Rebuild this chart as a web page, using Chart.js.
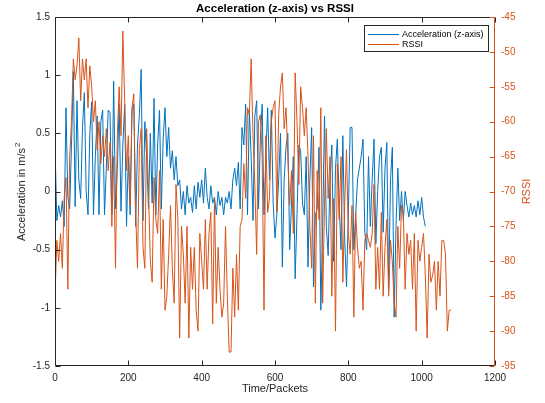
<!DOCTYPE html>
<html>
<head>
<meta charset="utf-8">
<script src="https://cdn.jsdelivr.net/npm/chart.js@4.4.0/dist/chart.umd.min.js"></script>
<style>
    html, body { margin: 0; padding: 0; background: #fff; }
    canvas { display: block; }
</style>
</head>
<body>
<canvas id="myChart" width="545" height="403"></canvas>
<script>
// one read sample every 5 packets
var packetStep = 5;

// acceleration (z-axis) in m/s^2, packets 0..1010
var accel = [
    0.40, -0.25, -0.12, -0.22, -0.08, -0.30, 0.72, -0.05, -0.15, 0.40,
    1.03, -0.13, 0.78, 0.10, -0.06, 0.55, 0.85, 0.00, -0.20, 0.50,
    0.77, -0.20, 0.30, 0.65, -0.20, 0.60, 0.70, -0.20, 0.20, 0.70,
    0.68, -0.20, 0.95, -0.15, 0.20, 0.75, -0.17, 0.40, 0.75, -0.30,
    0.30, -0.20, 0.70, 0.75, -0.30, 0.40, 0.65, 1.05, -0.25, 0.60,
    0.30, -0.15, 0.50, -0.10, 0.80, -0.20, 0.40, 0.70, -0.15, 0.45,
    0.72, 0.30, 0.55, 0.20, 0.35, 0.10, 0.30, 0.05, 0.10, -0.15,
    0.00, -0.20, 0.05, -0.10, -0.05, -0.18, 0.05, -0.15, 0.08, -0.05,
    0.10, -0.10, 0.20, -0.05, -0.15, 0.05, -0.10, -0.05, -0.20, 0.00,
    -0.12, -0.05, -0.20, -0.05, -0.10, 0.00, -0.15, 0.10, 0.20, 0.05,
    0.25, -0.15, 0.55, 0.40, 0.75, -0.20, 0.70, 0.30, -0.25, 0.65,
    0.78, -0.15, 0.45, 0.75, -0.20, 0.30, 0.72, 0.10, 0.70, -0.10,
    -0.40, -0.20, 0.10, 0.50, -0.65, 0.10, 0.38, 0.50, -0.50, -0.10,
    0.30, -0.75, -0.20, 0.40, 0.35, -0.10, -0.20, 0.30, -0.65, 0.10,
    0.55, -0.82, -0.20, -0.15, 0.38, -1.02, -0.30, 0.65, -0.30, -0.55,
    0.10, 0.40, -0.60, 0.20, 0.45, -0.10, -0.50, 0.48, -0.40, -0.82,
    -0.20, 0.55, 0.55, -0.50, -0.20, 0.10, 0.20, 0.30, 0.45, -0.35,
    -0.50, 0.30, -0.30, 0.10, 0.45, -0.45, 0.00, 0.30, 0.38, -0.35,
    0.20, 0.42, -0.85, 0.10, 0.38, -1.08, -0.30, 0.20, -0.25, 0.00,
    -0.25, 0.00, -0.12, -0.22, -0.10, -0.20, -0.12, -0.22, -0.08, -0.20,
    -0.05, -0.22, -0.30
];

// RSSI in dBm, packets 0..1080
var rssi = [
    -85, -77, -80, -76, -81, -71, -68, -84, -65, -60,
    -51, -54, -52, -48, -57, -51, -54, -51, -58, -52,
    -55, -60, -57, -64, -60, -66, -62, -65, -61, -67,
    -63, -75, -65, -81, -62, -55, -62, -47, -57, -67,
    -62, -72, -58, -56, -73, -81, -64, -61, -78, -81,
    -61, -70, -80, -83, -68, -74, -76, -67, -84, -74,
    -87, -85, -79, -72, -81, -86, -69, -74, -91, -75,
    -79, -86, -75, -91, -78, -84, -78, -87, -90, -76,
    -80, -84, -74, -84, -76, -73, -89, -71, -86, -78,
    -84, -88, -86, -75, -85, -93, -93, -81, -88, -79,
    -87, -75, -74, -66, -71, -58, -59, -51, -62, -69,
    -79, -60, -59, -65, -87, -62, -73, -71, -60, -58,
    -57, -73, -59, -55, -53, -61, -58, -65, -72, -67,
    -76, -53, -60, -69, -55, -58, -62, -58, -65, -75,
    -81, -62, -86, -67, -74, -58, -86, -72, -61, -71,
    -65, -85, -71, -90, -66, -74, -65, -83, -72, -64,
    -76, -79, -72, -88, -73, -78, -81, -80, -87, -77,
    -76, -77, -78, -76, -69, -84, -78, -84, -73, -85,
    -78, -74, -85, -77, -80, -86, -88, -75, -81, -72,
    -73, -84, -76, -79, -77, -84, -76, -90, -77, -80,
    -78, -76, -82, -91, -79, -83, -82, -80, -87, -80,
    -85, -77, -77, -79, -90, -87, -87
];

var xTicks = [0, 200, 400, 600, 800, 1000, 1200];
var accTicks = [-1.5, -1, -0.5, 0, 0.5, 1, 1.5];
var rssiTicks = [-95, -90, -85, -80, -75, -70, -65, -60, -55, -50, -45];

var blue = '#0072BD';
var orange = '#D95319';
var axisGrey = '#262626';
var fontName = '"Liberation Sans", Arial, Helvetica, sans-serif';

function toPoints(values) {
    return values.map(function (v, i) {
        return { x: i * packetStep, y: v };
    });
}

// plain labels like matlab: 1 not 1.0, 1000 not 1,000
function plainLabel(value) {
    return String(Math.round(value * 10) / 10);
}

// frame, inward ticks, title, axis titles and legend
var matlabLook = {
    id: 'matlabLook',
    afterDraw: function (chart) {
        var ctx = chart.ctx;
        var a = chart.chartArea;
        var sx = chart.scales.x, sy = chart.scales.y, sr = chart.scales.y1;
        var L = a.left + 0.5, R = a.right - 0.5, T = a.top + 0.5, B = a.bottom - 0.5;
        var tick = 5;

        ctx.save();
        ctx.lineWidth = 1;
        ctx.strokeStyle = axisGrey;
        ctx.beginPath();
        ctx.moveTo(R, T); ctx.lineTo(L, T); ctx.lineTo(L, B); ctx.lineTo(R, B);
        xTicks.forEach(function (v) {
            var px = Math.round(sx.getPixelForValue(v)) + 0.5;
            ctx.moveTo(px, B); ctx.lineTo(px, B - tick);
            ctx.moveTo(px, T); ctx.lineTo(px, T + tick);
        });
        accTicks.forEach(function (v) {
            var py = Math.round(sy.getPixelForValue(v)) + 0.5;
            ctx.moveTo(L, py); ctx.lineTo(L + tick, py);
        });
        ctx.stroke();

        ctx.strokeStyle = orange;
        ctx.beginPath();
        ctx.moveTo(R, T); ctx.lineTo(R, B);
        rssiTicks.forEach(function (v) {
            var py = Math.round(sr.getPixelForValue(v)) + 0.5;
            ctx.moveTo(R, py); ctx.lineTo(R - tick, py);
        });
        ctx.stroke();

        var cx = (a.left + a.right) / 2;
        var cy = (a.top + a.bottom) / 2;

        ctx.fillStyle = '#000';
        ctx.textAlign = 'center';
        ctx.textBaseline = 'middle';
        ctx.font = 'bold 11.5px ' + fontName;
        ctx.fillText('Acceleration (z-axis) vs RSSI', cx, 9);

        ctx.fillStyle = axisGrey;
        ctx.font = '11px ' + fontName;
        ctx.fillText('Time/Packets', cx, 389);

        // left y title with superscript 2
        ctx.save();
        ctx.translate(22, cy);
        ctx.rotate(-Math.PI / 2);
        var main = 'Acceleration in m/s';
        var w = ctx.measureText(main).width;
        ctx.textAlign = 'left';
        ctx.fillText(main, -w / 2 - 3, 0);
        ctx.font = '8px ' + fontName;
        ctx.fillText('2', w / 2 - 2, -4);
        ctx.restore();

        ctx.save();
        ctx.translate(527, cy);
        ctx.rotate(-Math.PI / 2);
        ctx.fillStyle = orange;
        ctx.font = '11px ' + fontName;
        ctx.fillText('RSSI', 0, 0);
        ctx.restore();

        // legend box
        ctx.fillStyle = '#fff';
        ctx.fillRect(364.5, 25.5, 124, 26);
        ctx.strokeStyle = axisGrey;
        ctx.strokeRect(364.5, 25.5, 124, 26);
        ctx.lineWidth = 1;
        ctx.strokeStyle = blue;
        ctx.beginPath(); ctx.moveTo(368, 34.5); ctx.lineTo(399, 34.5); ctx.stroke();
        ctx.strokeStyle = orange;
        ctx.beginPath(); ctx.moveTo(368, 44.5); ctx.lineTo(399, 44.5); ctx.stroke();
        ctx.fillStyle = '#000';
        ctx.font = '9px ' + fontName;
        ctx.textAlign = 'left';
        ctx.fillText('Acceleration (z-axis)', 402, 34.5);
        ctx.fillText('RSSI', 402, 44.5);
        ctx.restore();
    }
};

document.addEventListener('DOMContentLoaded', function () {
    var ctx = document.getElementById('myChart').getContext('2d');
    var myChart = new Chart(ctx, {
        type: 'line',
        data: {
            datasets: [{
                label: 'Acceleration (z-axis)',
                data: toPoints(accel),
                yAxisID: 'y',
                borderColor: blue,
                borderWidth: 1,
                pointRadius: 0,
                tension: 0,
                order: 1
            }, {
                label: 'RSSI',
                data: toPoints(rssi),
                yAxisID: 'y1',
                borderColor: orange,
                borderWidth: 1,
                pointRadius: 0,
                tension: 0,
                order: 0
            }]
        },
        options: {
            responsive: false,
            animation: false,
            devicePixelRatio: 1,
            layout: { padding: { top: 17, left: 0, right: 0, bottom: 0 } },
            plugins: {
                legend: { display: false },
                tooltip: { enabled: false },
                title: { display: false }
            },
            scales: {
                x: {
                    type: 'linear',
                    min: 0,
                    max: 1200,
                    grid: { display: false, drawTicks: false },
                    border: { display: false },
                    ticks: {
                        stepSize: 200,
                        autoSkip: false,
                        maxRotation: 0,
                        padding: 6,
                        color: axisGrey,
                        font: { family: fontName, size: 10 },
                        callback: plainLabel
                    },
                    afterFit: function (scale) { scale.height = 37; }
                },
                y: {
                    position: 'left',
                    min: -1.5,
                    max: 1.5,
                    grid: { display: false, drawTicks: false },
                    border: { display: false },
                    ticks: {
                        stepSize: 0.5,
                        autoSkip: false,
                        padding: 5,
                        color: axisGrey,
                        font: { family: fontName, size: 10 },
                        callback: plainLabel
                    },
                    afterFit: function (scale) { scale.width = 55; }
                },
                y1: {
                    position: 'right',
                    min: -95,
                    max: -45,
                    grid: { display: false, drawTicks: false },
                    border: { display: false },
                    ticks: {
                        stepSize: 5,
                        autoSkip: false,
                        padding: 6,
                        color: orange,
                        font: { family: fontName, size: 10 },
                        callback: plainLabel
                    },
                    afterFit: function (scale) { scale.width = 50; }
                }
            }
        },
        plugins: [matlabLook]
    });
});
</script>
</body>
</html>
